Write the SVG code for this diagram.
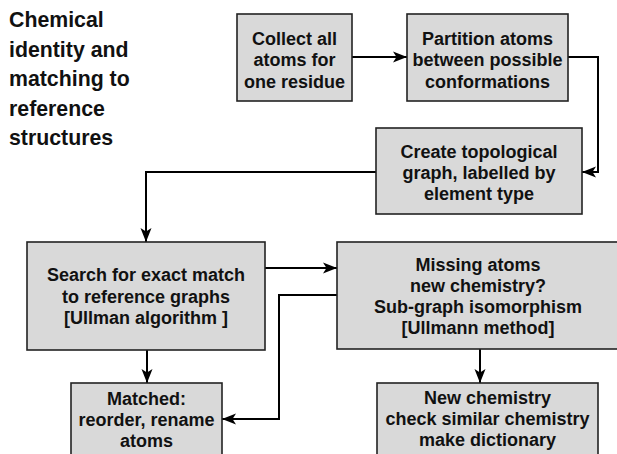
<svg xmlns="http://www.w3.org/2000/svg" width="617" height="454" viewBox="0 0 617 454">
  <style>
    .box { fill: #d9d9d9; stroke: #222; stroke-width: 1.6; }
    .lbl { font-family: "Liberation Sans", Arial, sans-serif; font-weight: bold; font-size: 18px; fill: #111; text-anchor: middle; }
    .title { font-family: "Liberation Sans", Arial, sans-serif; font-weight: bold; font-size: 21.3px; fill: #111; }
    .wire { fill: none; stroke: #000; stroke-width: 2; marker-end: url(#arrow); }
  </style>
  <defs>
    <marker id="arrow" markerUnits="userSpaceOnUse" markerWidth="16" markerHeight="12" refX="14" refY="6" orient="auto">
      <path d="M0,0.5 L14,6 L0,11.5 L3.5,6 Z" fill="#000"/>
    </marker>
  </defs>

  <rect width="617" height="454" fill="#fff"/>

  <!-- heading -->
  <text class="title" x="9" y="27">Chemical</text>
  <text class="title" x="9" y="56.5">identity and</text>
  <text class="title" x="9" y="86">matching to</text>
  <text class="title" x="9" y="115.5">reference</text>
  <text class="title" x="9" y="145">structures</text>

  <!-- connectors -->
  <g id="connectors">
    <path class="wire" d="M352,57 L407,57"/>
    <path class="wire" d="M568,57 L598,57 L598,172 L582,172"/>
    <path class="wire" d="M376,172 L146,172 L146,242"/>
    <path class="wire" d="M265,268 L337,268"/>
    <path class="wire" d="M337,295 L279,295 L279,419 L222,419"/>
    <path class="wire" d="M147,350 L147,383"/>
    <path class="wire" d="M480,349 L480,383"/>
  </g>

  <g id="collect">
    <rect class="box" x="237" y="14" width="115" height="87"/>
    <text class="lbl" x="294.5" y="44.5">Collect all</text>
    <text class="lbl" x="294.5" y="66">atoms for</text>
    <text class="lbl" x="294.5" y="87.5">one residue</text>
  </g>

  <g id="partition">
    <rect class="box" x="407" y="14" width="161" height="87"/>
    <text class="lbl" x="487.5" y="44.5">Partition atoms</text>
    <text class="lbl" x="487.5" y="66">between possible</text>
    <text class="lbl" x="487.5" y="87.5">conformations</text>
  </g>

  <g id="graph">
    <rect class="box" x="376" y="128" width="206" height="86"/>
    <text class="lbl" x="479" y="158">Create topological</text>
    <text class="lbl" x="479" y="178.5">graph, labelled by</text>
    <text class="lbl" x="479" y="199.5">element type</text>
  </g>

  <g id="exact">
    <rect class="box" x="27" y="242" width="238" height="108"/>
    <text class="lbl" x="146" y="281">Search for exact match</text>
    <text class="lbl" x="146" y="302.5">to reference graphs</text>
    <text class="lbl" x="146" y="324">[Ullman algorithm ]</text>
  </g>

  <g id="subgraph">
    <rect class="box" x="337" y="242" width="282" height="107"/>
    <text class="lbl" x="478" y="270.5">Missing atoms</text>
    <text class="lbl" x="478" y="291.5">new chemistry?</text>
    <text class="lbl" x="478" y="313">Sub-graph isomorphism</text>
    <text class="lbl" x="478" y="334">[Ullmann method]</text>
  </g>

  <g id="matched">
    <rect class="box" x="71" y="383" width="151" height="80"/>
    <text class="lbl" x="146.5" y="405">Matched:</text>
    <text class="lbl" x="146.5" y="426">reorder, rename</text>
    <text class="lbl" x="146.5" y="447">atoms</text>
  </g>

  <g id="newchem">
    <rect class="box" x="377" y="383" width="221" height="80"/>
    <text class="lbl" x="487.5" y="404">New chemistry</text>
    <text class="lbl" x="487.5" y="425">check similar chemistry</text>
    <text class="lbl" x="487.5" y="446">make dictionary</text>
  </g>
</svg>
